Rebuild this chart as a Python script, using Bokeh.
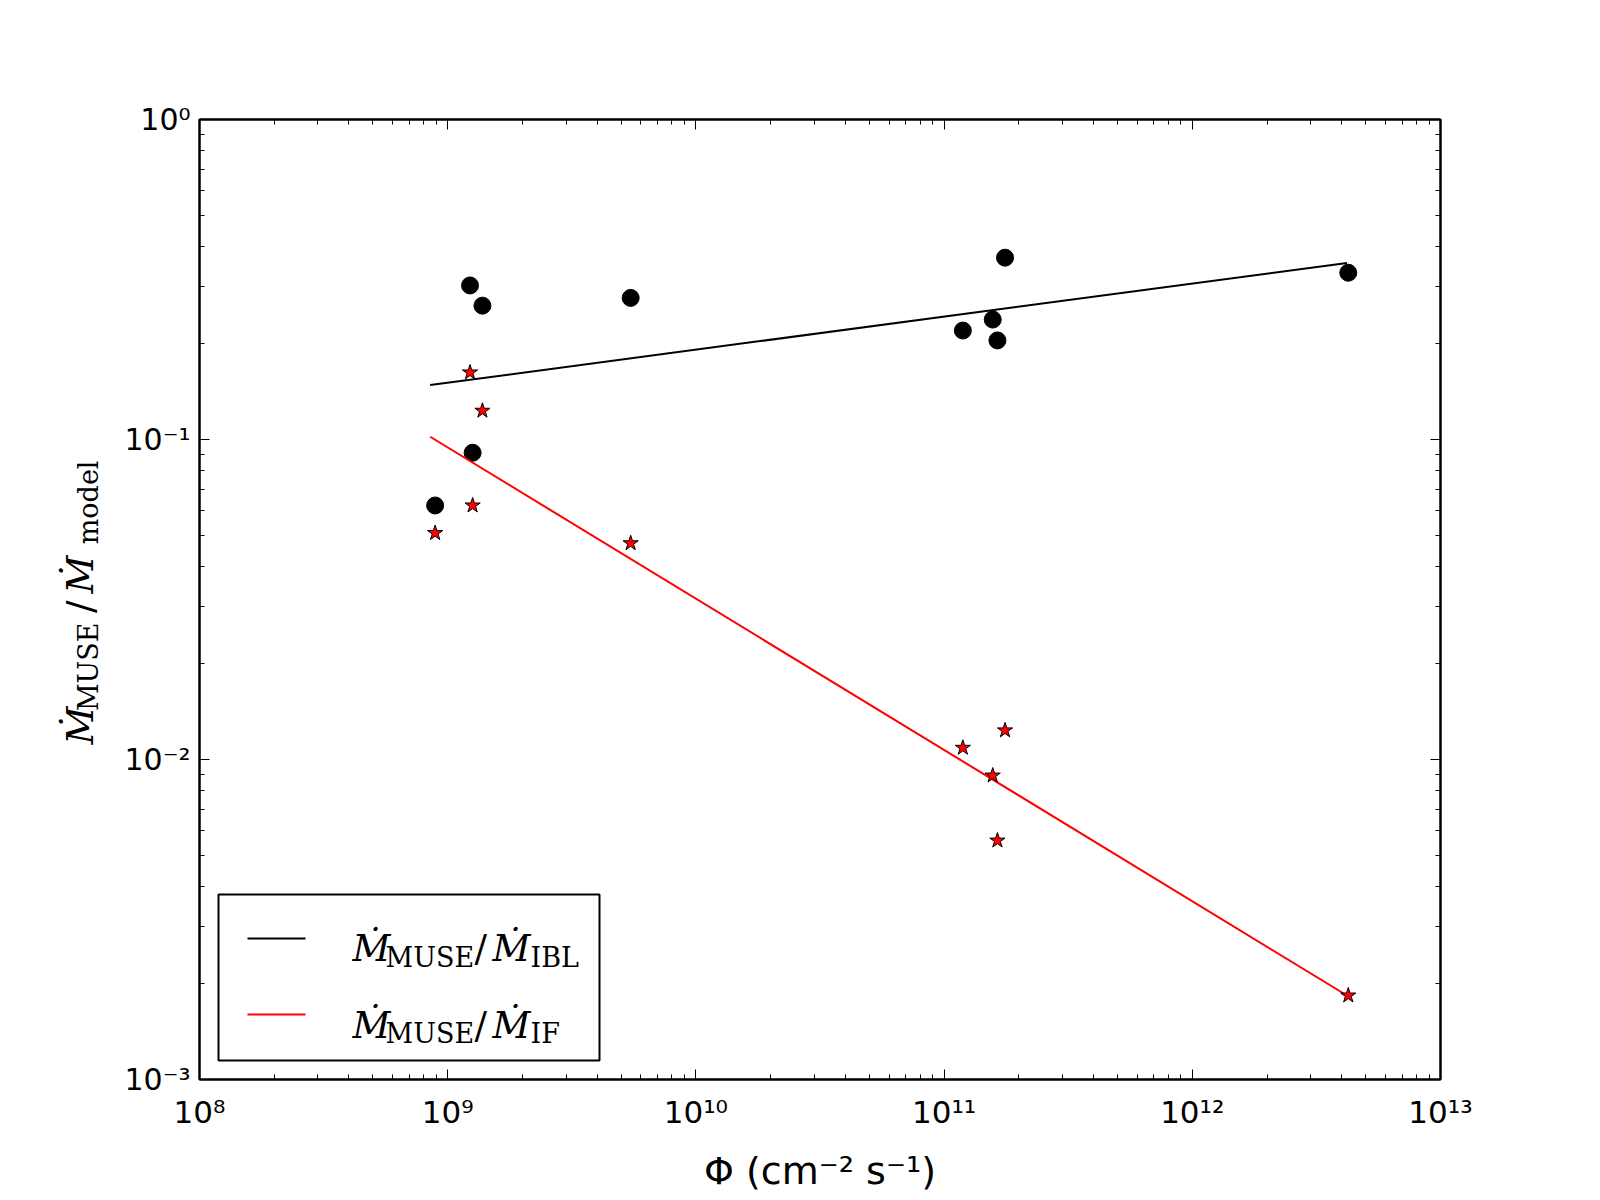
import math
from bokeh.plotting import figure
from bokeh.layouts import row
from bokeh.models import (LogAxis, FixedTicker, CustomJSTickFormatter, Label,
                          BoxAnnotation)
from bokeh.embed import file_html
from bokeh.resources import INLINE

# ---------------- data ----------------
phi = [8.9e8, 1.23e9, 1.26e9, 1.38e9, 5.46e9, 1.19e11, 1.57e11, 1.64e11, 1.76e11, 4.25e12]
ratio_ibl = [0.0622, 0.303, 0.0909, 0.262, 0.277, 0.219, 0.237, 0.204, 0.370, 0.332]
ratio_if = [0.0510, 0.162, 0.0622, 0.123, 0.0474, 0.01088, 0.00891, 0.00558, 0.01233, 0.00183]

fit_phi = [8.5e8, 4.2e12]
fit_ibl = [0.148, 0.356]
fit_if = [0.102, 0.00183]

x_ticks = [1e8, 1e9, 1e10, 1e11, 1e12, 1e13]
x_tick_labels = ["10\u2078", "10\u2079", "10\u00b9\u2070", "10\u00b9\u00b9", "10\u00b9\u00b2", "10\u00b9\u00b3"]
y_ticks = [1e-3, 1e-2, 1e-1, 1.0]
y_tick_labels = ["10\u207b\u00b3", "10\u207b\u00b2", "10\u207b\u00b9", "10\u2070"]

x_label = "\u03a6 (cm\u207b\u00b2 s\u207b\u00b9)"
y_label_parts = ["\u1e40", "MUSE", "/", "\u1e40", "model"]
legend_ibl_parts = ["\u1e40", "MUSE", "/", "\u1e40", "IBL"]
legend_if_parts = ["\u1e40", "MUSE", "/", "\u1e40", "IF"]

FONT = "DejaVu Serif"
MAIN_SIZE = "37px"
SUB_SIZE = "27px"
BORDER_TOP = 119
FRAME_H = 960
BORDER_BOTTOM = 110
SIDE_W = 119


def minor_ticks(major):
    out = []
    for t in major[:-1]:
        for m in range(2, 10):
            out.append(t * m)
    return out


p = figure(frame_width=1241, frame_height=FRAME_H,
           x_axis_type="log", y_axis_type="log",
           x_range=(1e8, 1e13), y_range=(1e-3, 1.0),
           output_backend="svg", toolbar_location=None,
           min_border_left=199 - SIDE_W, min_border_right=140,
           min_border_top=BORDER_TOP, min_border_bottom=BORDER_BOTTOM)
p.grid.visible = False
p.background_fill_color = "white"
p.border_fill_color = "white"
p.outline_line_color = "black"
p.outline_line_width = 2

xt = FixedTicker(ticks=x_ticks, minor_ticks=minor_ticks(x_ticks))
yt = FixedTicker(ticks=y_ticks, minor_ticks=minor_ticks(y_ticks))

bottom_ax = p.below[0]
left_ax = p.left[0]
bottom_ax.ticker = xt
left_ax.ticker = yt
bottom_ax.major_label_overrides = dict(zip(x_ticks, x_tick_labels))
left_ax.major_label_overrides = dict(zip(y_ticks, y_tick_labels))

top_ax = LogAxis(ticker=xt, formatter=CustomJSTickFormatter(code="return ''"))
right_ax = LogAxis(ticker=yt, formatter=CustomJSTickFormatter(code="return ''"))
p.add_layout(top_ax, "above")
p.add_layout(right_ax, "right")

for ax in (bottom_ax, left_ax, top_ax, right_ax):
    ax.axis_line_color = "black"
    ax.axis_line_width = 2
    ax.major_tick_in = 10
    ax.major_tick_out = 0
    ax.minor_tick_in = 5
    ax.minor_tick_out = 0
    ax.major_tick_line_color = "black"
    ax.minor_tick_line_color = "black"
    ax.major_tick_line_width = 1
    ax.minor_tick_line_width = 1
    ax.major_label_text_font = "DejaVu Sans"
    ax.major_label_text_font_size = "31px"
    ax.major_label_text_color = "black"
    ax.major_label_standoff = 14
left_ax.major_label_text_font_size = "30px"
left_ax.major_label_standoff = 9
top_ax.major_label_standoff = 0
right_ax.major_label_standoff = 0

bottom_ax.axis_label = x_label
bottom_ax.axis_label_text_font = "DejaVu Sans"
bottom_ax.axis_label_text_font_size = "38px"
bottom_ax.axis_label_text_font_style = "normal"
bottom_ax.axis_label_text_color = "black"
bottom_ax.axis_label_standoff = 16

# ---------------- marks ----------------
p.scatter(phi, ratio_ibl, marker="circle", size=17, fill_color="black", line_color="black")
p.line(fit_phi, fit_ibl, line_color="black", line_width=2)
p.line(fit_phi, fit_if, line_color="red", line_width=2)
p.scatter(phi, ratio_if, marker="star", size=16, fill_color="red", line_color="black", line_width=1)

# ---------------- legend ----------------
box = dict(left_units="screen", right_units="screen", bottom_units="screen", top_units="screen")
p.add_layout(BoxAnnotation(left=19, right=400, bottom=19, top=185,
                           fill_color="white", fill_alpha=1.0,
                           line_color="black", line_alpha=1.0, line_width=2, **box))
p.add_layout(BoxAnnotation(left=48, right=106, bottom=140, top=142,
                           fill_color="black", fill_alpha=1.0, line_color=None, **box))
p.add_layout(BoxAnnotation(left=48, right=106, bottom=64, top=66,
                           fill_color="red", fill_alpha=1.0, line_color=None, **box))

leg_x = [153, 186, 275, 293, 331]
for parts, base_main, base_sub in ((legend_ibl_parts, 131, 122), (legend_if_parts, 54, 46)):
    for i, (txt, sx) in enumerate(zip(parts, leg_x)):
        is_sub = i in (1, 4)
        p.add_layout(Label(x=sx, y=base_sub if is_sub else base_main,
                           x_units="screen", y_units="screen",
                           text=txt, text_align="left", text_baseline="alphabetic",
                           text_font=FONT, text_font_size=SUB_SIZE if is_sub else MAIN_SIZE,
                           text_font_style="italic" if txt == "\u1e40" else "normal",
                           text_color="black"))

# ---------------- y-axis label in a narrow side panel (frame aligned with main frame) ----------------
side = figure(frame_width=SIDE_W, frame_height=FRAME_H,
              min_border_left=0, min_border_right=0,
              min_border_top=BORDER_TOP, min_border_bottom=BORDER_BOTTOM,
              x_range=(0, 1), y_range=(0, 1),
              x_axis_location=None, y_axis_location=None,
              output_backend="svg", toolbar_location=None)
side.grid.visible = False
side.outline_line_color = None
side.background_fill_color = "white"
side.border_fill_color = "white"

frame_bottom = BORDER_TOP + FRAME_H
# upper end (page y) of each rotated piece; pieces are anchored at their upper end
y_label_end = [frame_bottom - 706, frame_bottom - 622, frame_bottom - 600,
               frame_bottom - 555, frame_bottom - 460]
for i, (txt, sy) in enumerate(zip(y_label_parts, y_label_end)):
    is_sub = i in (1, 4)
    side.add_layout(Label(x=88 if is_sub else 80, y=sy, x_units="screen", y_units="screen",
                          text=txt, angle=math.pi / 2, text_align="right",
                          text_baseline="alphabetic",
                          text_font=FONT, text_font_size=SUB_SIZE if is_sub else MAIN_SIZE,
                          text_font_style="italic" if txt == "\u1e40" else "normal",
                          text_color="black"))

layout = row(side, p, spacing=0)
open("out.html", "w").write(file_html(layout, INLINE))
